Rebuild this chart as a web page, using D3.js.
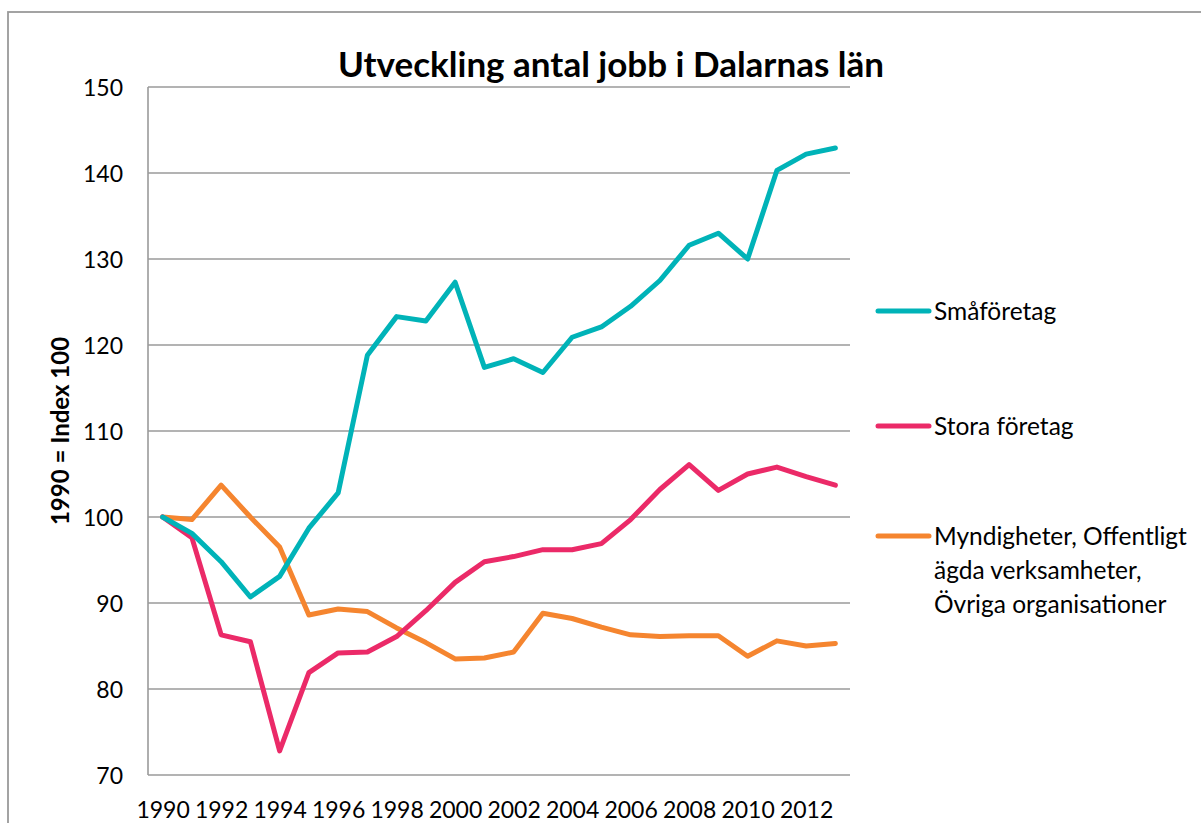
<!DOCTYPE html>
<html><head><meta charset="utf-8">
<script src="https://cdn.jsdelivr.net/npm/d3@7/dist/d3.min.js"></script>
<style>html,body{margin:0;padding:0;background:#fff;overflow:hidden}</style>
</head><body>
<svg id="chart" width="1201" height="823"></svg>
<script>
const years = d3.range(1990, 2014);
const xTickLabels = ["1990","1992","1994","1996","1998","2000","2002","2004","2006","2008","2010","2012"];
const yTicks = [70,80,90,100,110,120,130,140,150];
const seriesNames = ["Småföretag","Stora företag","Myndigheter, Offentligt ägda verksamheter, Övriga organisationer"];
const smaforetag = [100,98.1,94.8,90.7,93.1,98.7,102.8,118.8,123.3,122.8,127.3,117.4,118.4,116.8,120.9,122.1,124.5,127.5,131.6,133.0,130.0,140.3,142.2,142.9];
const storaForetag = [100,97.6,86.3,85.5,72.8,81.9,84.2,84.3,86.1,89.1,92.4,94.8,95.4,96.2,96.2,96.9,99.7,103.2,106.1,103.1,105.0,105.8,104.7,103.7];
const myndigheter = [100,99.7,103.7,100.0,96.5,88.6,89.3,89.0,87.1,85.4,83.5,83.6,84.3,88.8,88.2,87.2,86.3,86.1,86.2,86.2,83.8,85.6,85.0,85.3];
const colors = ["#00B3B8","#EB2A68","#F5852F"];
const legendLines = [["Småföretag"],["Stora företag"],["Myndigheter, Offentligt","ägda verksamheter,","Övriga organisationer"]];

const svg = d3.select("#chart");
const font = "Lato, 'Open Sans', sans-serif";
const L = 148, R = 850, T = 87, B = 775;

// outer frame
svg.append("rect").attr("x",8).attr("y",12).attr("width",1220).attr("height",840)
  .attr("fill","none").attr("stroke","#9a9a9a").attr("stroke-width",1.8);

const x = d3.scalePoint().domain(years).range([L, R]).padding(0.5);
const y = d3.scaleLinear().domain([70,150]).range([B, T]);

// gridlines
svg.append("g").selectAll("line").data(yTicks.filter(d=>d>70)).join("line")
  .attr("x1",L).attr("x2",R).attr("y1",d=>y(d)).attr("y2",d=>y(d))
  .attr("stroke","#9a9a9a").attr("stroke-width",1.6);

// axes lines
svg.append("line").attr("x1",L).attr("x2",L).attr("y1",T).attr("y2",B).attr("stroke","#9a9a9a").attr("stroke-width",1.6);
svg.append("line").attr("x1",L).attr("x2",R).attr("y1",B).attr("y2",B).attr("stroke","#9a9a9a").attr("stroke-width",1.6);

// y tick labels
const yAxis = d3.axisLeft(y).tickValues(yTicks).tickSize(0).tickPadding(25);
const gy = svg.append("g").attr("transform",`translate(${L},0)`).call(yAxis);
gy.select(".domain").remove();
gy.selectAll("text").attr("font-family",font).attr("font-size",23).attr("fill","#000").attr("dy","0.36em");

// x tick labels
const xAxis = d3.axisBottom(x).tickValues(xTickLabels.map(Number)).tickSize(0).tickPadding(27);
const gx = svg.append("g").attr("transform",`translate(0,${B})`).call(xAxis);
gx.select(".domain").remove();
gx.selectAll("text").attr("font-family",font).attr("font-size",23).attr("fill","#000");

// title
svg.append("text").attr("x",611).attr("y",77).attr("text-anchor","middle")
  .attr("font-family",font).attr("font-weight","bold").attr("font-size",35).attr("fill","#000")
  .text("Utveckling antal jobb i Dalarnas län");

// y axis title
svg.append("text").attr("transform","translate(69,431) rotate(-90)").attr("text-anchor","middle")
  .attr("font-family",font).attr("font-weight","bold").attr("font-size",24).attr("fill","#000")
  .text("1990 = Index 100");

// lines
const data = [smaforetag, storaForetag, myndigheter];
const line = d3.line().x((d,i)=>x(years[i])).y(d=>y(d));
const order = [2,1,0];
order.forEach(k=>{
  svg.append("path").datum(data[k]).attr("d",line).attr("fill","none")
    .attr("stroke",colors[k]).attr("stroke-width",5).attr("stroke-linejoin","round").attr("stroke-linecap","round");
});

// legend
const legY = [311, 426, 536];
legendLines.forEach((lines,k)=>{
  const g = svg.append("g");
  g.append("line").attr("x1",878).attr("x2",929).attr("y1",legY[k]).attr("y2",legY[k])
    .attr("stroke",colors[k]).attr("stroke-width",5).attr("stroke-linecap","round");
  lines.forEach((t,j)=>{
    g.append("text").attr("x",934).attr("y",legY[k]+9+j*34)
      .attr("font-family",font).attr("font-size",24.5).attr("fill","#000").text(t);
  });
});
</script>
</body></html>
